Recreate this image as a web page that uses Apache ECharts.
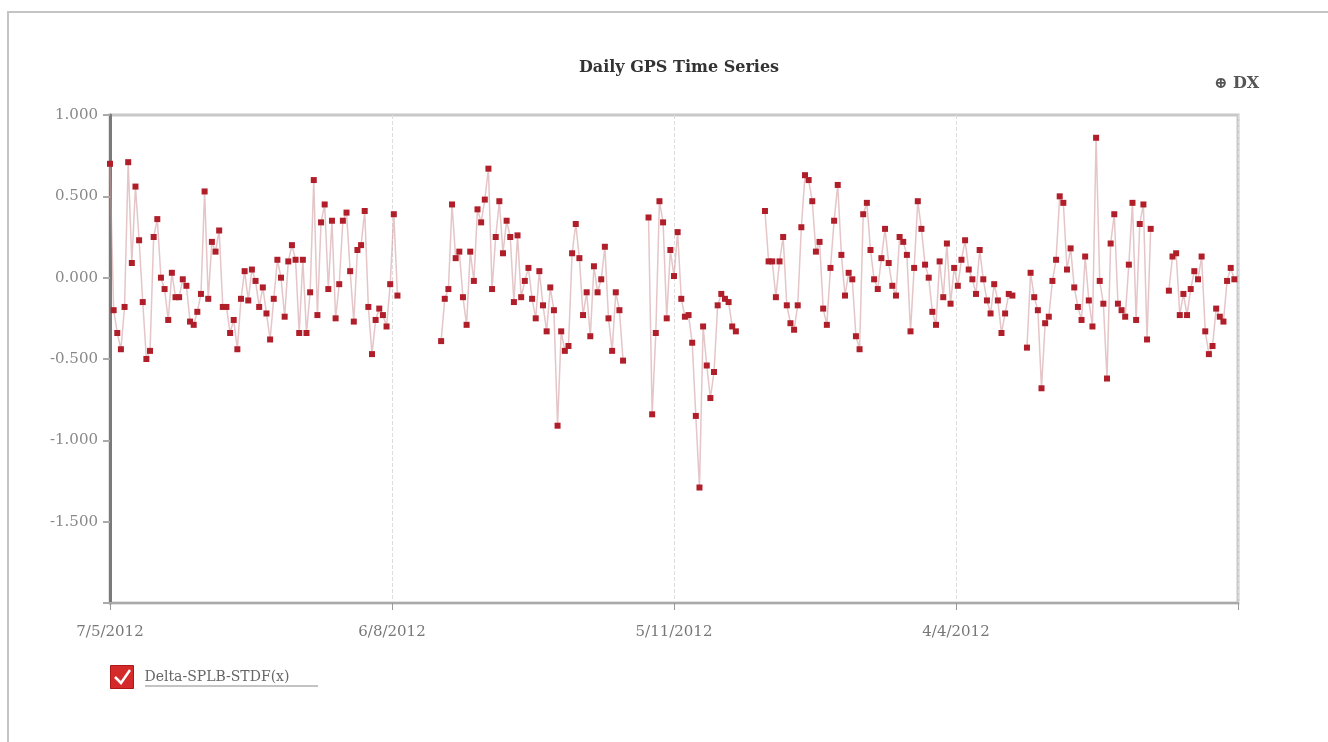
<!DOCTYPE html>
<html><head><meta charset="utf-8">
<script src="https://cdn.jsdelivr.net/npm/echarts@6/dist/echarts.min.js"></script>
<style>html,body{margin:0;padding:0;background:#fff}#c{width:1328px;height:742px}</style>
</head><body><div id="c"></div>
<script>
// ---- data ----
const chartTitle = 'Daily GPS Time Series';
const seriesName = 'Delta-SPLB-STDF(x)';
const xTickLabels = ['7/5/2012', '6/8/2012', '5/11/2012', '4/4/2012'];
const pointsPerLabel = 77.5;
const totalSlots = 310;

const segA = [0.70, -0.20, -0.34, -0.44, -0.18, 0.71, 0.09, 0.56, 0.23, -0.15,
  -0.50, -0.45, 0.25, 0.36, 0.00, -0.07, -0.26, 0.03, -0.12, -0.12,
  -0.01, -0.05, -0.27, -0.29, -0.21, -0.10, 0.53, -0.13, 0.22, 0.16,
  0.29, -0.18, -0.18, -0.34, -0.26, -0.44, -0.13, 0.04, -0.14, 0.05,
  -0.02, -0.18, -0.06, -0.22, -0.38, -0.13, 0.11, 0.00, -0.24, 0.10];
const segB = [0.20, 0.11, -0.34, 0.11, -0.34, -0.09, 0.60, -0.23, 0.34, 0.45,
  -0.07, 0.35, -0.25, -0.04, 0.35, 0.40, 0.04, -0.27, 0.17, 0.20,
  0.41, -0.18, -0.47, -0.26, -0.19, -0.23, -0.30, -0.04, 0.39, -0.11];
const gap1 = 11;
const segC1 = [-0.39, -0.13, -0.07, 0.45, 0.12, 0.16, -0.12, -0.29, 0.16, -0.02,
  0.42, 0.34, 0.48, 0.67, -0.07, 0.25, 0.47, 0.15, 0.35, 0.25,
  -0.15, 0.26, -0.12, -0.02, 0.06, -0.13, -0.25, 0.04, -0.17, -0.33,
  -0.06, -0.20, -0.91, -0.33, -0.45, -0.42, 0.15, 0.33, 0.12, -0.23,
  -0.09, -0.36, 0.07, -0.09, -0.01, 0.19, -0.25, -0.45, -0.09, -0.20,
  -0.51];
const gap2 = 6;
const segC2 = [0.37, -0.84, -0.34, 0.47, 0.34, -0.25, 0.17, 0.01, 0.28, -0.13, -0.24];
const segD = [-0.23, -0.40, -0.85, -1.29, -0.30, -0.54, -0.74, -0.58, -0.17, -0.10, -0.13, -0.15, -0.30, -0.33];
const gap3 = 7;
const segE = [0.41, 0.10, 0.10, -0.12, 0.10, 0.25, -0.17, -0.28, -0.32, -0.17,
  0.31, 0.63, 0.60, 0.47, 0.16, 0.22, -0.19, -0.29, 0.06, 0.35,
  0.57, 0.14, -0.11, 0.03, -0.01, -0.36, -0.44, 0.39, 0.46, 0.17,
  -0.01, -0.07, 0.12, 0.30, 0.09, -0.05, -0.11, 0.25, 0.22, 0.14,
  -0.33, 0.06, 0.47, 0.30, 0.08, 0.00, -0.21, -0.29, 0.10, -0.12,
  0.21, -0.16];
const segF = [0.06, -0.05, 0.11, 0.23, 0.05, -0.01, -0.10, 0.17, -0.01, -0.14, -0.22, -0.04, -0.14, -0.34, -0.22, -0.10, -0.11];
const gap4 = 3;
const segG = [-0.43, 0.03, -0.12, -0.20, -0.68, -0.28, -0.24, -0.02, 0.11, 0.50,
  0.46, 0.05, 0.18, -0.06, -0.18, -0.26, 0.13, -0.14, -0.30, 0.86,
  -0.02, -0.16, -0.62, 0.21, 0.39, -0.16, -0.20, -0.24, 0.08, 0.46,
  -0.26, 0.33, 0.45, -0.38, 0.30];
const gap5 = 4;
const segH = [-0.08, 0.13, 0.15, -0.23, -0.10, -0.23, -0.07, 0.04, -0.01, 0.13,
  -0.33, -0.47, -0.42, -0.19, -0.24, -0.27, -0.02, 0.06, -0.01];

// ---- build ----
const gap = n => new Array(n).fill(null);
const values = [].concat(segA, segB, gap(gap1), segC1, gap(gap2), segC2, segD, gap(gap3),
  segE, segF, gap(gap4), segG, gap(gap5), segH);
const data = values.map((v, i) => [i, v === null ? '-' : v]);

const serif = 'DejaVu Serif';
const chart = echarts.init(document.getElementById('c'), null, {renderer: 'canvas'});
chart.setOption({
  animation: false,
  backgroundColor: '#fff',
  title: {
    text: chartTitle, left: 674, top: 55, textAlign: 'center',
    textStyle: {fontFamily: serif, fontWeight: 'bold', fontSize: 16, color: '#333'}
  },
  grid: {left: 110, right: 90, top: 115, bottom: 139, show: true, borderColor: '#c8c8c8', borderWidth: 3, backgroundColor: 'transparent'},
  legend: {
    left: 110, top: 665, padding: 0, icon: 'rect', itemWidth: 23, itemHeight: 23,
    itemStyle: {color: '#d42a2a', borderColor: '#b01818', borderWidth: 1},
    textStyle: {fontFamily: serif, fontSize: 14, color: '#666', padding: [0, 0, 0, 6]},
    data: [seriesName]
  },
  xAxis: {
    type: 'value', min: 0, max: totalSlots, interval: pointsPerLabel,
    axisLine: {show: true, onZero: false, lineStyle: {color: '#aaa', width: 2}},
    axisTick: {show: true, length: 7, lineStyle: {color: '#999'}},
    axisLabel: {
      fontFamily: serif, fontSize: 15, color: '#777', margin: 22,
      formatter: v => xTickLabels[Math.round(v / pointsPerLabel)] || ''
    },
    splitLine: {show: true, lineStyle: {type: 'dashed', color: '#ddd', width: 1}}
  },
  yAxis: {
    type: 'value', min: -2, max: 1, interval: 0.5,
    axisLine: {show: true, onZero: false, lineStyle: {color: '#7a7a7a', width: 3}},
    axisTick: {show: true, length: 7, lineStyle: {color: '#aaa', width: 2}},
    axisLabel: {
      fontFamily: serif, fontSize: 15, color: '#888', margin: 12,
      formatter: v => (v <= -2 ? '' : v.toFixed(3))
    },
    splitLine: {show: false}
  },
  series: [{
    name: seriesName, type: 'line', data: data, connectNulls: false,
    showSymbol: true, symbol: 'rect', symbolSize: 6,
    itemStyle: {color: '#b01e2a'},
    lineStyle: {color: 'rgba(205,150,155,0.55)', width: 1.5}
  }],
  graphic: [
    {type: 'rect', shape: {x: 8, y: 12, width: 1500, height: 900}, style: {fill: 'none', stroke: '#c4c4c4', lineWidth: 2}, silent: true},
    {type: 'text', left: 1214, top: 76, style: {text: '⊕ DX', font: 'bold 16px "DejaVu Serif"', fill: '#555'}},
    {type: 'polyline', shape: {points: [[115, 677], [121, 683], [130, 670]]}, style: {stroke: '#fff', lineWidth: 2.5, fill: 'none'}, z: 100},
    {type: 'line', shape: {x1: 145, y1: 686, x2: 318, y2: 686}, style: {stroke: '#888', lineWidth: 1}, z: 100}
  ]
});
</script>
</body></html>
